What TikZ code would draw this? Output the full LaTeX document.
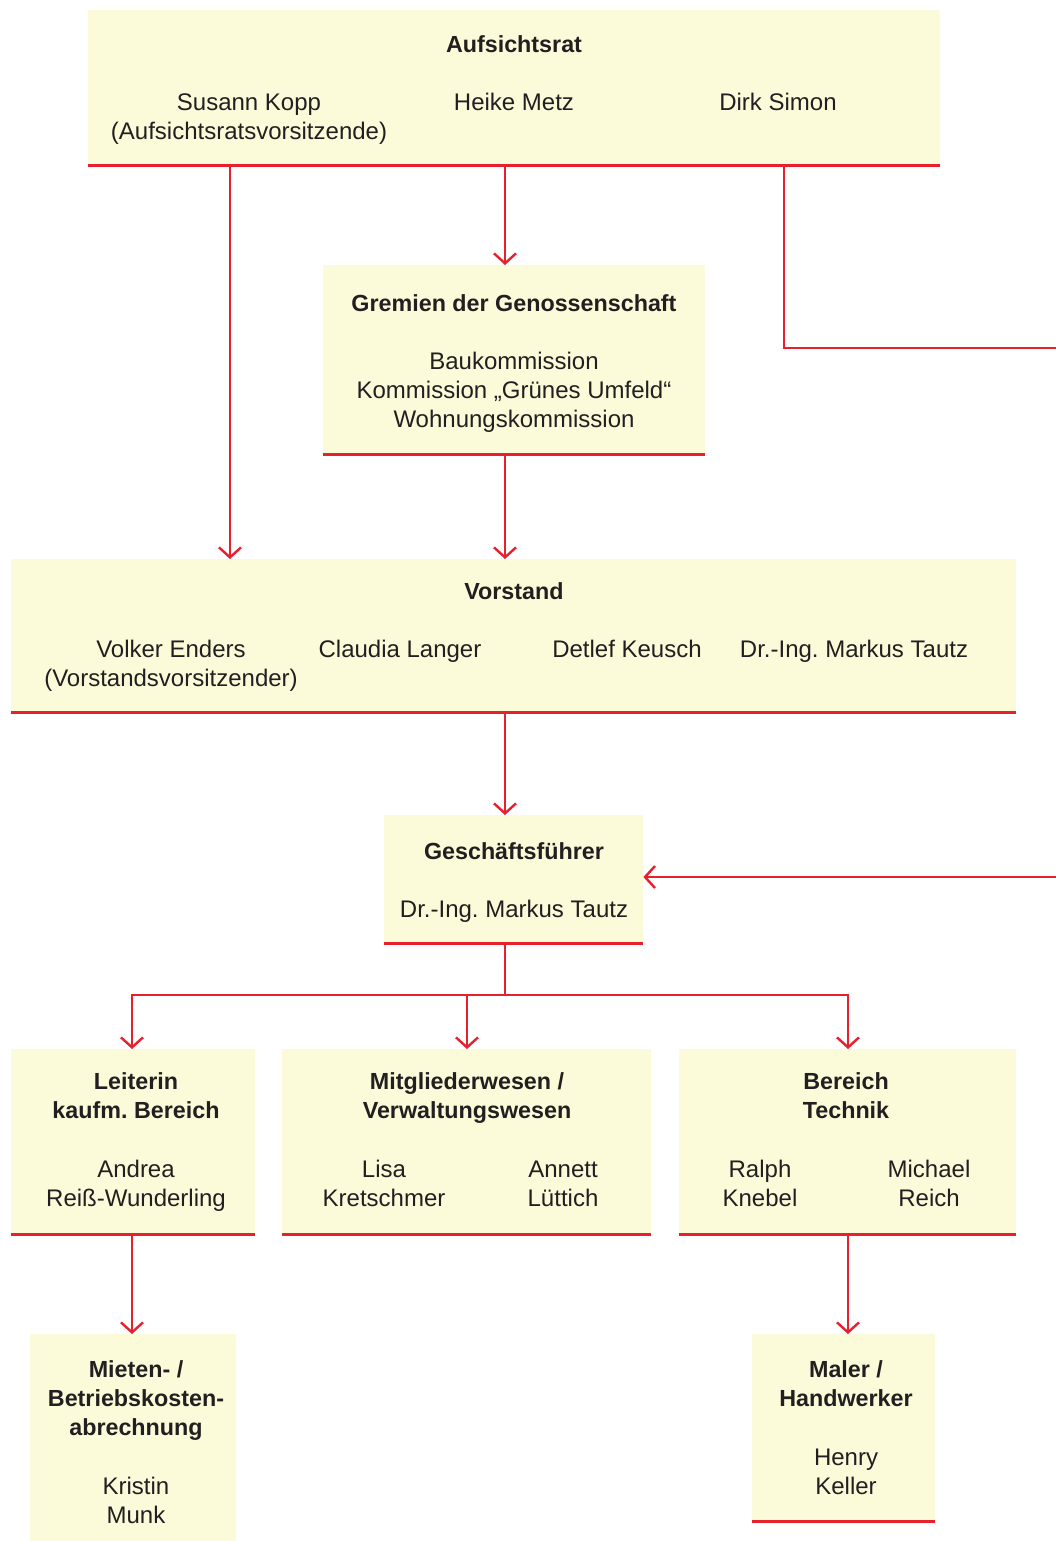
\documentclass[tikz,border=0pt]{standalone}
\usepackage{fontspec}
\setmainfont{Liberation Sans}
\usetikzlibrary{arrows.meta}
\definecolor{boxfill}{HTML}{FBFBDA}
\definecolor{orgred}{HTML}{E6202C}
\definecolor{txt}{HTML}{231F20}
\begin{document}
\frenchspacing
\begin{tikzpicture}[x=1pt,y=-1pt,
  box/.style={fill=boxfill, draw=none, inner sep=0pt, anchor=north west},
  baseline/.style={draw=orgred, line width=3pt},
  conn/.style={draw=orgred, line width=2.4pt, line join=miter},
  arr/.style={conn, -{Straight Barb[length=10pt,width=22pt]}},
  ttl/.style={anchor=north, inner sep=0pt, align=center, text=txt, text height=16.5pt,
    font=\fontsize{23.3}{29}\selectfont\bfseries},
  nm/.style={anchor=north, inner sep=0pt, align=center, text=txt, text height=17pt,
    font=\fontsize{24}{29}\selectfont}]
\useasboundingbox (0,0) rectangle (1055,1541);

% boxes
\node[box, minimum width=852pt, minimum height=155pt] (auf) at (88,10) {};
\node[box, minimum width=382pt, minimum height=189pt] (gre) at (323,265) {};
\node[box, minimum width=1005pt, minimum height=153pt] (vor) at (11,559) {};
\node[box, minimum width=259pt, minimum height=128pt] (gf) at (384,815) {};
\node[box, minimum width=244pt, minimum height=185pt] (lei) at (11,1049) {};
\node[box, minimum width=369pt, minimum height=185pt] (mit) at (282,1049) {};
\node[box, minimum width=337pt, minimum height=185pt] (bt) at (679,1049) {};
\node[box, minimum width=206pt, minimum height=207pt] (mie) at (30,1334) {};
\node[box, minimum width=183pt, minimum height=187pt] (mal) at (752,1334) {};

% column coordinates
\coordinate (c132) at (132,0);
\coordinate (c230) at (230,0);
\coordinate (c467) at (467,0);
\coordinate (c505) at (505,0);
\coordinate (c784) at (784,0);
\coordinate (c848) at (848,0);
\coordinate (redgeA) at (1060,348);
\coordinate (redgeB) at (1060,877);
\coordinate (j) at (505,995);

% connectors
\draw[arr] (auf.south -| c230) -- (vor.north -| c230);
\draw[arr] (auf.south -| c505) -- (gre.north -| c505);
\draw[conn] (auf.south -| c784) |- (redgeA);
\draw[arr] (redgeB) -- (gf.east |- redgeB);
\draw[arr] (gre.south -| c505) -- (vor.north -| c505);
\draw[arr] (vor.south -| c505) -- (gf.north -| c505);
\draw[conn] (gf.south -| c505) -- (j);
\draw[arr] (j) -| (lei.north -| c132);
\draw[arr] (j) -| (bt.north -| c848);
\draw[arr] (j -| c467) -- (mit.north -| c467);
\draw[arr] (lei.south -| c132) -- (mie.north -| c132);
\draw[arr] (bt.south -| c848) -- (mal.north -| c848);

% bottom red lines
\draw[baseline] (auf.south west) -- (auf.south east);
\draw[baseline] (gre.south west) -- (gre.south east);
\draw[baseline] (vor.south west) -- (vor.south east);
\draw[baseline] (gf.south west) -- (gf.south east);
\draw[baseline] (lei.south west) -- (lei.south east);
\draw[baseline] (mit.south west) -- (mit.south east);
\draw[baseline] (bt.south west) -- (bt.south east);
\draw[baseline] (mal.south west) -- (mal.south east);

% texts (y = cap top of the last line)
\node[ttl] (aufT) at (514,36) {Aufsichtsrat};
\node[nm] (kopp) at (249,122) {Susann Kopp\\(Aufsichtsratsvorsitzende)};
\node[nm] (metz) at (514,93) {Heike Metz};
\node[nm] (simon) at (778,93) {Dirk Simon};

\node[ttl] (greT) at (514,295) {Gremien der Genossenschaft};
\node[nm] (greN) at (514,410) {Baukommission\\Kommission „Grünes Umfeld“\\Wohnungskommission};

\node[ttl] (vorT) at (514,583) {Vorstand};
\node[nm] (enders) at (171,669) {Volker Enders\\(Vorstandsvorsitzender)};
\node[nm] (langer) at (400,640) {Claudia Langer};
\node[nm] (keusch) at (627,640) {Detlef Keusch};
\node[nm] (tautzA) at (854,640) {Dr.-Ing. Markus Tautz};

\node[ttl] (gfT) at (514,843) {Geschäftsführer};
\node[nm] (tautzB) at (514,900) {Dr.-Ing. Markus Tautz};

\node[ttl] (leiT) at (136,1102) {Leiterin\\kaufm. Bereich};
\node[nm] (reiss) at (136,1189) {Andrea\\Reiß-Wunderling};

\node[ttl] (mitT) at (467,1102) {Mitgliederwesen /\\Verwaltungswesen};
\node[nm] (lisa) at (384,1189) {Lisa\\Kretschmer};
\node[nm] (annett) at (563,1189) {Annett\\Lüttich};

\node[ttl] (btT) at (846,1102) {Bereich\\Technik};
\node[nm] (ralph) at (760,1189) {Ralph\\Knebel};
\node[nm] (michael) at (929,1189) {Michael\\Reich};

\node[ttl] (mieT) at (136,1419) {Mieten- /\\Betriebskosten-\\abrechnung};
\node[nm] (munk) at (136,1506) {Kristin\\Munk};

\node[ttl] (malT) at (846,1390) {Maler /\\Handwerker};
\node[nm] (keller) at (846,1477) {Henry\\Keller};
\end{tikzpicture}
\end{document}
